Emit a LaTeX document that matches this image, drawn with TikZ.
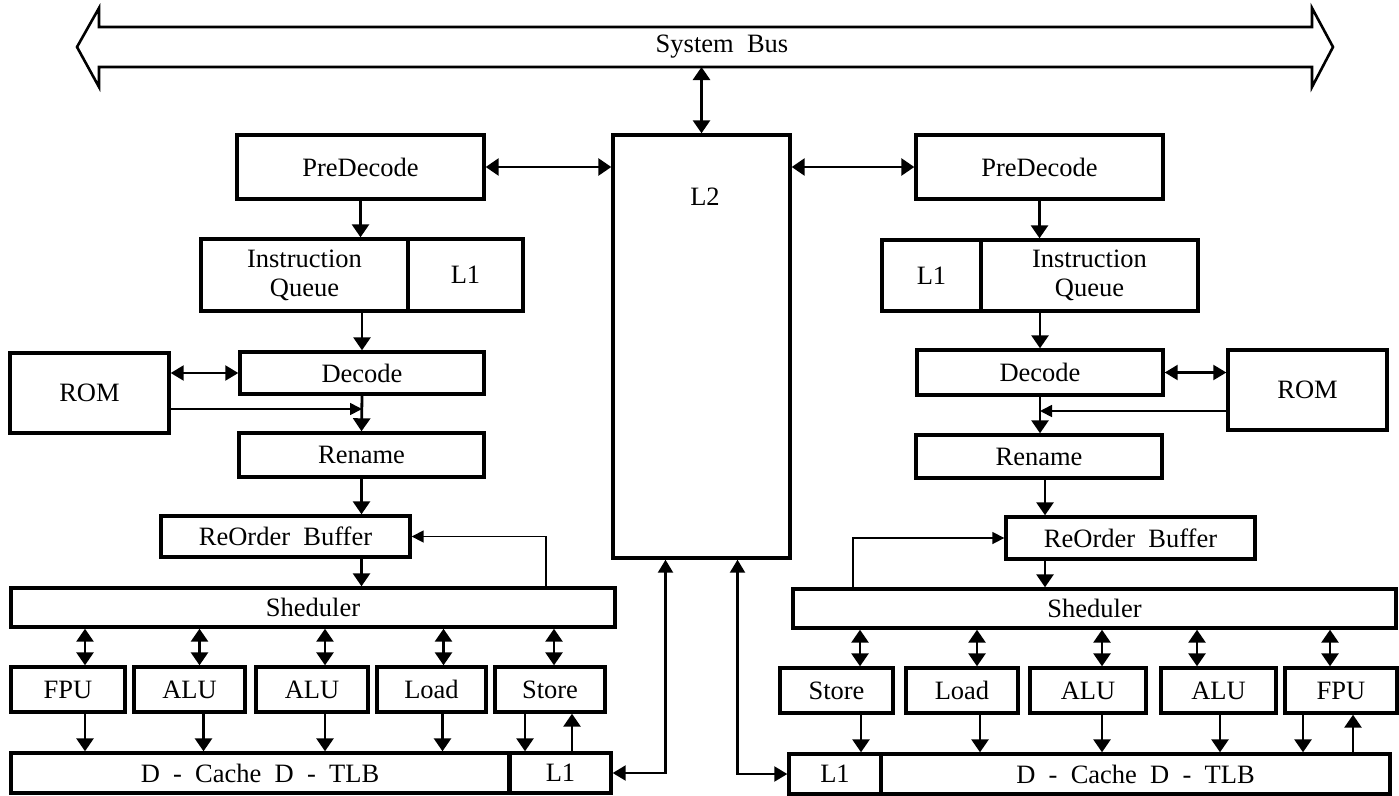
\documentclass[tikz,border=0pt]{standalone}
\usepackage{fontspec}
\setmainfont{Liberation Serif}
\usetikzlibrary{arrows.meta}

\tikzset{
  blk/.style 2 args={draw, line width=3.4pt, inner sep=0pt, align=center,
    minimum width=#1, minimum height=#2},
  arr/.style={line width=2.8pt, -{Triangle[length=13pt,width=17pt]}},
  dbl/.style={line width=2.8pt, {Triangle[length=13pt,width=17pt]}-{Triangle[length=13pt,width=17pt]}},
  lnk/.style={line width=2.2pt, {Triangle[length=13pt,width=15pt]}-{Triangle[length=13pt,width=15pt]}},
  fb/.style={line width=1.7pt, -{Triangle[length=12pt,width=12pt]}}
}

\begin{document}
\begin{tikzpicture}[x=1pt, y=-1pt, font=\fontsize{26.5}{29}\selectfont]
    \useasboundingbox (0,0) rectangle (1399,795);

    \draw[line width=2.6pt, line join=miter]
    (77,47) -- (99,8) -- (99,27) -- (1312,27) -- (1312,8) -- (1333,47)
    -- (1312,87) -- (1312,67) -- (99,67) -- (99,87) -- cycle;
    \node (bus) at (722,47) {System\ \ Bus};

    \node[blk={177}{423}] (L2) at (701.5,346.5) {};
    \node (L2txt) at (705,197) {L2};
    \coordinate (busL2) at (701.5,67);
    \draw[dbl] (busL2) -- (L2.north);

    % left core
    \node[blk={247}{64}] (preL) at (360.5,167) {PreDecode};
    \node[blk={207}{72}] (iqL) at (304.5,275) {Instruction\\Queue};
    \node[blk={115}{72}] (l1iL) at (465.5,275) {L1};
    \node[blk={244}{42}] (decL) at (362,373) {Decode};
    \node[blk={159}{80}] (romL) at (89.5,393) {ROM};
    \node[blk={245}{44}] (renL) at (361.5,455) {Rename};
    \node[blk={249}{41}] (robL) at (285.5,536.5) {ReOrder\ \ Buffer};
    \node[blk={604}{39}] (shL) at (313,607.5) {Sheduler};
    \foreach \nm/\cx/\w/\txt in {fpuL/68/114/FPU, aluaL/189.5/111/ALU, alubL/312/112/ALU, ldL/431.5/109/Load, stL/550/110/Store}
        \node[blk={\w}{45}] (\nm) at (\cx,689.5) {\txt};
    \node[blk={498}{40}] (dcL) at (260,773) {D\ \ -\ \ Cache\ \ D\ \ -\ \ TLB};
    \node[blk={101}{40}] (l1dL) at (560.5,773) {L1};

    \draw[dbl] (preL.east) -- (preL.east -| L2.west);
    \draw[arr] (preL.south) -- (preL.south |- iqL.north);
    \draw[arr] (decL.north |- iqL.south) -- (decL.north);
    \draw[lnk] (decL.west -| romL.east) -- (decL.west);
    \draw[arr] (decL.south) -- (renL.north);
    \coordinate (mrgL) at (362,409);
    \draw[fb] (mrgL -| romL.east) -- (mrgL);
    \draw[arr] (renL.south) -- (renL.south |- robL.north);
    \draw[arr] (renL.south |- robL.south) -- (renL.south |- shL.north);
    \coordinate (fbL) at (546,0);
    \draw[fb] (fbL |- shL.north) |- (robL.east);

    \foreach \u/\dx in {fpuL/17, aluaL/10, alubL/13, ldL/12, stL/4}
        \draw[dbl] ([xshift=\dx pt]\u.north) -- ([xshift=\dx pt]\u.north |- shL.south);
    \foreach \u/\dx/\t in {fpuL/17/dcL, aluaL/14/dcL, alubL/13/dcL, ldL/11/dcL, stL/-25/l1dL}
        \draw[arr] ([xshift=\dx pt]\u.south) -- ([xshift=\dx pt]\u.south |- \t.north);
    \draw[arr] ([xshift=22pt]stL.south |- l1dL.north) -- ([xshift=22pt]stL.south);
    \draw[lnk] (l1dL.east) -| ([xshift=-36pt]L2.south);

    % right core
    \node[blk={247}{64}] (preR) at (1039.5,167) {PreDecode};
    \node[blk={99}{71}] (l1iR) at (931.5,275.5) {L1};
    \node[blk={217}{71}] (iqR) at (1089.5,275.5) {Instruction\\Queue};
    \node[blk={246}{45}] (decR) at (1040,372.5) {Decode};
    \node[blk={159}{80}] (romR) at (1307.5,390) {ROM};
    \node[blk={246}{43}] (renR) at (1039,456.5) {Rename};
    \node[blk={249}{42}] (robR) at (1130.5,538) {ReOrder\ \ Buffer};
    \node[blk={603}{39}] (shR) at (1094.5,608.5) {Sheduler};
    \foreach \nm/\cx/\w/\txt in {stR/836.5/113/Store, ldR/962/112/Load, aluaR/1088/116/ALU, alubR/1218.5/115/ALU, fpuR/1341/112/FPU}
        \node[blk={\w}{45}] (\nm) at (\cx,690.5) {\txt};
    \node[blk={92}{40}] (l1dR) at (835,774) {L1};
    \node[blk={509}{40}] (dcR) at (1135.5,774) {D\ \ -\ \ Cache\ \ D\ \ -\ \ TLB};

    \draw[dbl] (preR.west -| L2.east) -- (preR.west);
    \draw[arr] (preR.south) -- (preR.south |- iqR.north);
    \draw[arr] (decR.north |- iqR.south) -- (decR.north);
    \draw[lnk] (decR.east) -- (decR.east -| romR.west);
    \draw[arr] (decR.south) -- (decR.south |- renR.north);
    \coordinate (mrgR) at (1040,411);
    \draw[fb] (mrgR -| romR.west) -- (mrgR);
    \draw[arr] ([xshift=6pt]renR.south) -- ([xshift=6pt]renR.south |- robR.north);
    \draw[arr] ([xshift=6pt]renR.south |- robR.south) -- ([xshift=6pt]renR.south |- shR.north);
    \coordinate (fbR) at (853,0);
    \draw[fb] (fbR |- shR.north) |- (robR.west);

    \foreach \u/\dx in {stR/23.5, ldR/15, aluaR/14, alubR/-21.5, fpuR/-11}
        \draw[dbl] ([xshift=\dx pt]\u.north) -- ([xshift=\dx pt]\u.north |- shR.south);
    \foreach \u/\dx/\t in {stR/24.5/l1dR, ldR/18/dcR, aluaR/14/dcR, alubR/1.5/dcR, fpuR/-38/dcR}
        \draw[arr] ([xshift=\dx pt]\u.south) -- ([xshift=\dx pt]\u.south |- \t.north);
    \draw[arr] ([xshift=12pt]fpuR.south |- dcR.north) -- ([xshift=12pt]fpuR.south);
    \draw[lnk] (l1dR.west) -| ([xshift=36pt]L2.south);
\end{tikzpicture}
\end{document}
